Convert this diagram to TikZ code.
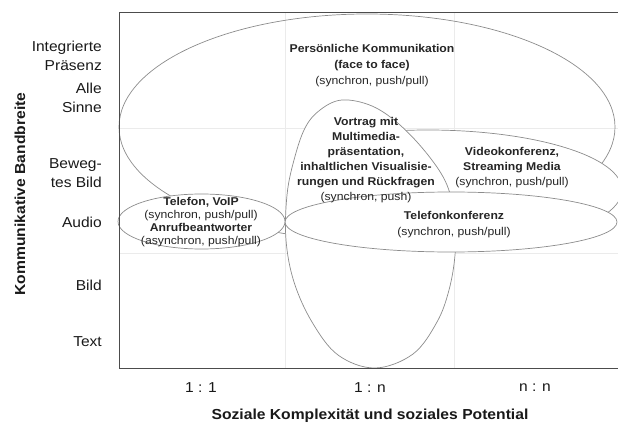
\documentclass[tikz,border=0pt]{standalone}
\usepackage{fontspec}
\setmainfont{Liberation Sans}[FakeStretch=1.08]
\begin{document}
\begin{tikzpicture}[x=1pt,y=-1pt,
  frameline/.style={draw=black!70, line width=0.9pt},
  gridline/.style={draw=black!8, line width=0.5pt},
  bubble/.style={draw=black!45, line width=0.7pt, fill=white},
  axislabel/.style={font=\fontsize{14.4}{19.5}\selectfont, align=right, anchor=east, inner sep=0pt, text=black!90},
  ticklabel/.style={font=\fontsize{14.4}{17}\selectfont, inner sep=0pt, text=black!90},
  axistitle/.style={font=\fontsize{14.5}{17}\selectfont\bfseries, inner sep=0pt, text=black!90},
  blurb/.style={align=center, inner sep=0pt, text=black!85},
]
\useasboundingbox (0,0) rectangle (618,425);

% faint cell grid
\draw[gridline] (285,12) -- (285,368);
\draw[gridline] (454,12) -- (454,368);
\draw[gridline] (119,128) -- (618,128);
\draw[gridline] (119,253) -- (618,253);

% face to face: the widest bubble
\draw[bubble, fill=none] (367,127) ellipse [x radius=248pt, y radius=113pt];

% video conference bubble, its hidden lower left part cut away
\begin{scope}
  \clip (380,0) rectangle (640,240);
  \draw[bubble] (428,190) ellipse [x radius=194pt, y radius=60pt];
\end{scope}

% lecture with media: tall, slightly leaning bubble
\draw[bubble] plot[smooth cycle, tension=0.6] coordinates {
  (342,100) (372,106) (400,125) (428,155) (447,185) (455,220) (455,255)
  (449,290) (437,322) (413,354) (375,368) (338,355) (312,322) (294,282)
  (286,240) (287,195) (294,160) (305,128) (320,110)};

% conference call
\draw[bubble] (451,222) ellipse [x radius=166pt, y radius=30pt];

% telephone, one to one
\draw[bubble] (201.5,221.5) ellipse [x radius=83.5pt, y radius=27.5pt];

% axes frame
\draw[frameline] (618,12) -- (119,12) -- (119,368) -- (618,368);

% bubble texts
\node[blurb, font=\fontsize{11.3}{16}\selectfont] (face) at (372,66)
  {\textbf{Persönliche Kommunikation}\\\textbf{(face to face)}\\(synchron, push/pull)};
\node[blurb, font=\fontsize{11.3}{15}\selectfont] (vortrag) at (366,160.5)
  {\textbf{Vortrag mit}\\\textbf{Multimedia-}\\\textbf{präsentation,}\\\textbf{inhaltlichen Visualisie-}\\\textbf{rungen und Rückfragen}\\(synchron, push)};
\node[blurb, font=\fontsize{11.3}{15}\selectfont] (video) at (512,168)
  {\textbf{Videokonferenz,}\\\textbf{Streaming Media}\\(synchron, push/pull)};
\node[blurb, font=\fontsize{11.3}{16}\selectfont] (konferenz) at (454,225)
  {\textbf{Telefonkonferenz}\\(synchron, push/pull)};
\node[blurb, font=\fontsize{11.3}{13}\selectfont] (telefon) at (201,222)
  {\textbf{Telefon, VoIP}\\(synchron, push/pull)\\\textbf{Anrufbeantworter}\\(asynchron, push/pull)};

% vertical axis labels
\node[axislabel] (praesenz) at (102,56) {Integrierte\\Präsenz};
\node[axislabel] (sinne) at (102,98) {Alle\\Sinne};
\node[axislabel] (bewegt) at (102,173) {Beweg-\\tes Bild};
\node[axislabel] (audio) at (102,222) {Audio};
\node[axislabel] (bild) at (102,285) {Bild};
\node[axislabel] (text) at (102,342) {Text};
\node[axistitle, rotate=90] (bandbreite) at (20,194) {Kommunikative Bandbreite};

% horizontal axis labels
\node[ticklabel] (eins) at (201,388) {1 : 1};
\node[ticklabel] (einsn) at (370,388) {1 : n};
\node[ticklabel] (nn) at (535,388) {n : n};
\node[axistitle] (sozial) at (370,416) {Soziale Komplexität und soziales Potential};
\end{tikzpicture}
\end{document}
